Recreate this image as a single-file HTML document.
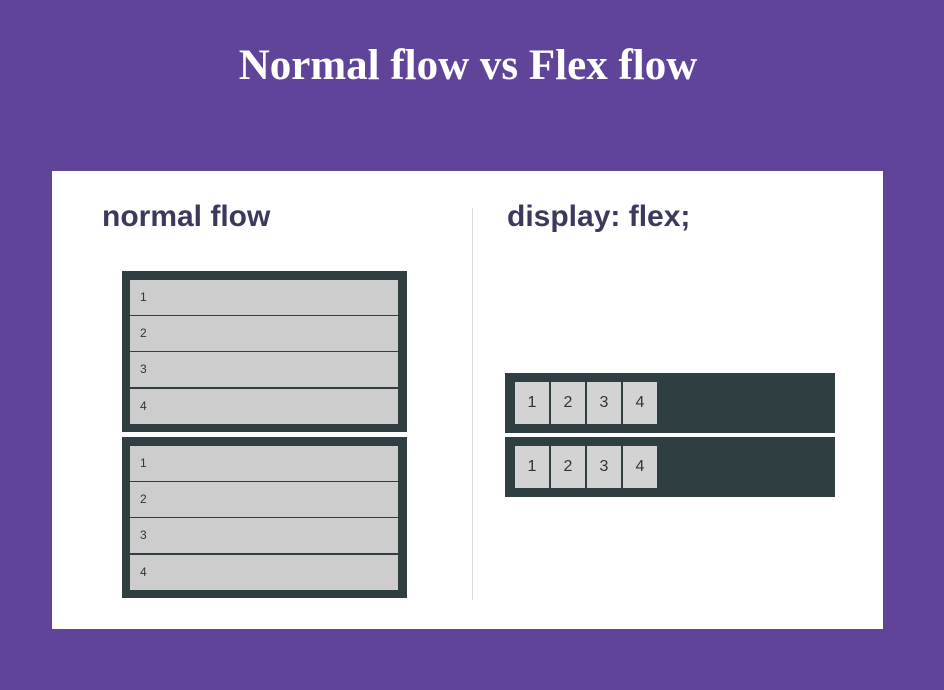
<!DOCTYPE html>
<html><head><style>
body{margin:0;width:944px;height:690px;background:#5f4499;position:relative;overflow:hidden;font-family:"Liberation Sans",sans-serif}
.t{position:absolute;left:0;width:936px;top:41px;text-align:center;color:#fff;font:bold 43px "Liberation Serif",serif}
.p{position:absolute;left:52px;top:171px;width:831px;height:458px;background:#fff}
.h{position:absolute;color:#3b3a5e;font-weight:bold;font-size:30px}
.ob{position:absolute;background:#2f3e41;box-sizing:border-box}
.row{position:absolute;left:8px;width:268px;height:35px;background:#cdcdcd;font-size:12px;color:#333;line-height:35px;text-indent:10px}
.it{position:absolute;top:9px;width:34px;height:42px;background:#d3d3d3;font-size:16px;color:#333;text-align:center;line-height:42px}
</style></head><body>
<div class="t">Normal flow vs Flex flow</div>
<div class="p"></div>
<div class="h" style="left:102px;top:200px">normal flow</div>
<div class="h" style="left:507px;top:200px">display: flex;</div>
<div style="position:absolute;left:472px;top:208px;width:1px;height:392px;background:#ddd"></div>
<div class="ob" style="left:122px;top:271px;width:285px;height:161px">
<div class="row" style="top:9px">1</div><div class="row" style="top:45px">2</div><div class="row" style="top:81px">3</div><div class="row" style="top:118px">4</div></div>
<div class="ob" style="left:122px;top:437px;width:285px;height:161px">
<div class="row" style="top:9px">1</div><div class="row" style="top:45px">2</div><div class="row" style="top:81px">3</div><div class="row" style="top:118px">4</div></div>
<div class="ob" style="left:505px;top:373px;width:330px;height:60px">
<div class="it" style="left:10px">1</div><div class="it" style="left:46px">2</div><div class="it" style="left:82px">3</div><div class="it" style="left:118px">4</div></div>
<div class="ob" style="left:505px;top:437px;width:330px;height:60px">
<div class="it" style="left:10px">1</div><div class="it" style="left:46px">2</div><div class="it" style="left:82px">3</div><div class="it" style="left:118px">4</div></div>
</body></html>
